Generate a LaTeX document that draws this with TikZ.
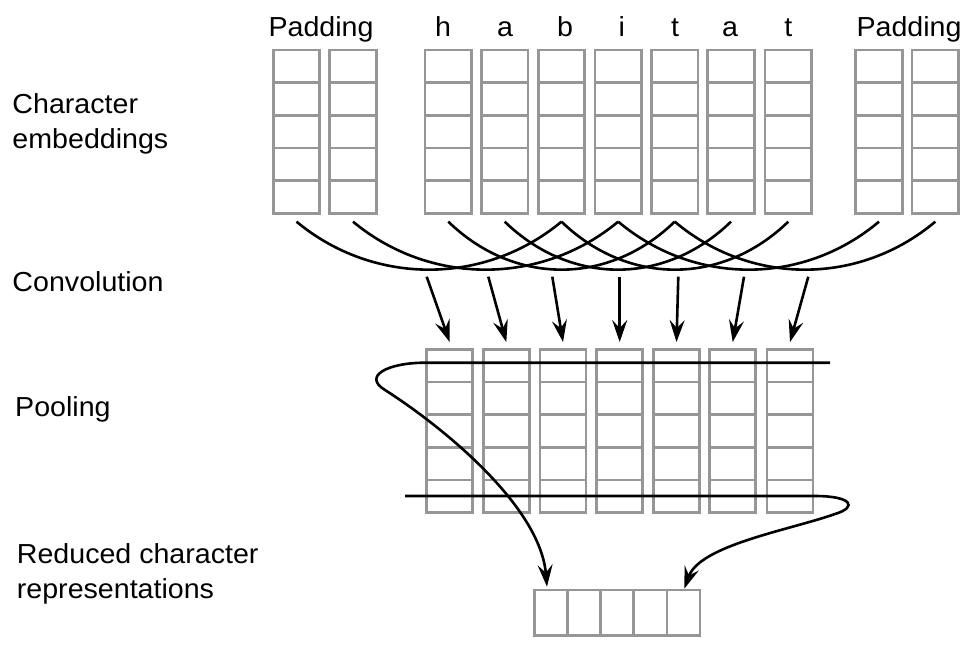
\documentclass[tikz,border=0pt]{standalone}
\usepackage{fontspec}
\setmainfont{Liberation Sans}[FakeStretch=1.04]
\usetikzlibrary{arrows.meta}
\definecolor{boxgray}{RGB}{150,150,150}
\begin{document}
\begin{tikzpicture}[x=1pt,y=-1pt,
  cellbox/.style={draw=boxgray, line width=2.6pt, inner sep=0pt},
  col/.style={cellbox, minimum width=46.5pt, minimum height=163.3pt,
    path picture={\foreach \k in {1,2,3,4}{\draw[boxgray, line width=2.6pt]
      ([yshift=-\k*32.66pt]path picture bounding box.north west) --
      ([yshift=-\k*32.66pt]path picture bounding box.north east);}}},
  redbox/.style={cellbox, minimum width=165.7pt, minimum height=45.7pt,
    path picture={\foreach \k in {1,2,3,4}{\draw[boxgray, line width=2.6pt]
      ([xshift=\k*33.14pt]path picture bounding box.north west) --
      ([xshift=\k*33.14pt]path picture bounding box.south west);}}},
  lab/.style={font=\fontsize{27.5}{32}\selectfont, inner sep=0pt, anchor=base},
  side/.style={font=\fontsize{27.5}{32}\selectfont, inner sep=0pt, anchor=base west},
  arcline/.style={line width=2.6pt, black},
  arr/.style={line width=2.6pt, black, -{Stealth[length=22pt,width=15pt,inset=8pt]}}
]
\useasboundingbox (0,0) rectangle (966,646);

% side labels
\node[side] (l1a) at (12.3,113.3) {Character};
\node[side] (l1b) at (12.3,148.3) {embeddings};
\node[side] (l2) at (12.3,291.7) {Convolution};
\node[side] (l3) at (15,416) {Pooling};
\node[side] (l4a) at (16.7,563.3) {Reduced character};
\node[side] (l4b) at (16.7,598.3) {representations};

% input columns
\node[col] (p1) at (296.5,131.7) {};
\node[col] (p2) at (353,131.7) {};
\node[col] (ch) at (448.3,131.7) {};
\node[col] (ca) at (504.7,131.7) {};
\node[col] (cb) at (561.5,131.7) {};
\node[col] (ci) at (618.2,131.7) {};
\node[col] (ct) at (674.7,131.7) {};
\node[col] (cA) at (731,131.7) {};
\node[col] (cT) at (788.3,131.7) {};
\node[col] (p3) at (879,131.7) {};
\node[col] (p4) at (935.3,131.7) {};

% top labels
\node[lab] (tp1) at (321,36) {Padding};
\node[lab] (th) at (443,36) {h};
\node[lab] (ta) at (505,36) {a};
\node[lab] (tb) at (565,36) {b};
\node[lab] (ti) at (621.7,36) {i};
\node[lab] (tt) at (675,36) {t};
\node[lab] (tA) at (730,36) {a};
\node[lab] (tT) at (788.3,36) {t};
\node[lab] (tp2) at (909,36) {Padding};

% arc end points below the columns
\foreach \n in {p1,p2,ch,ca,cb,ci,ct,cA,cT,p3,p4}
  \coordinate (e\n) at ([yshift=-7pt]\n.south);

% convolution arcs
\draw[arcline] (ep1) .. controls +(77,64) and +(-77,64) .. (ecb);
\draw[arcline] (ep2) .. controls +(77,64) and +(-77,64) .. (eci);
\draw[arcline] (ech) .. controls +(66,64) and +(-66,64) .. (ect);
\draw[arcline] (eca) .. controls +(66,64) and +(-66,64) .. (ecA);
\draw[arcline] (ecb) .. controls +(66,64) and +(-66,64) .. (ecT);
\draw[arcline] (eci) .. controls +(76,64) and +(-76,64) .. (ep3);
\draw[arcline] (ect) .. controls +(76,64) and +(-76,64) .. (ep4);

% output columns
\node[col, minimum width=46pt] (o1) at (449.7,431) {};
\node[col, minimum width=46pt] (o2) at (506.3,431) {};
\node[col, minimum width=46pt] (o3) at (563,431) {};
\node[col, minimum width=46pt] (o4) at (619.7,431) {};
\node[col, minimum width=46pt] (o5) at (676.5,431) {};
\node[col, minimum width=46pt] (o6) at (732.7,431) {};
\node[col, minimum width=46pt] (o7) at (790,431) {};

% arrow start points under the arcs
\coordinate (s1) at (426.7,276.7);
\coordinate (s2) at (488.3,276.7);
\coordinate (s3) at (552.3,276.7);
\coordinate (s4) at (619.7,276.7);
\coordinate (s5) at (678.3,276.7);
\coordinate (s6) at (744,276.7);
\coordinate (s7) at (808.3,276.7);
\foreach \i in {1,...,7}
  \draw[arr] (s\i) -- ([yshift=6pt]o\i.north);

% reduced representation
\node[redbox] (red) at (617.15,612.85) {};
\coordinate (r1) at ([xshift=14pt,yshift=2pt]red.north west);
\coordinate (r5) at ([xshift=-17pt,yshift=0pt]red.north east);

% pooling lines
\coordinate (q1) at (830,362.7);
\coordinate (q2) at (405,496);
\draw[arr] (q1) -- (425,362.7) .. controls (388,362.7) and (362,376) .. (385,390)
  .. controls (440,425) and (540,505) .. (r1);
\draw[arr] (q2) -- (815,496) .. controls (852,496) and (858,507) .. (835,514)
  .. controls (790,530) and (700,545) .. (r5);
\end{tikzpicture}
\end{document}
